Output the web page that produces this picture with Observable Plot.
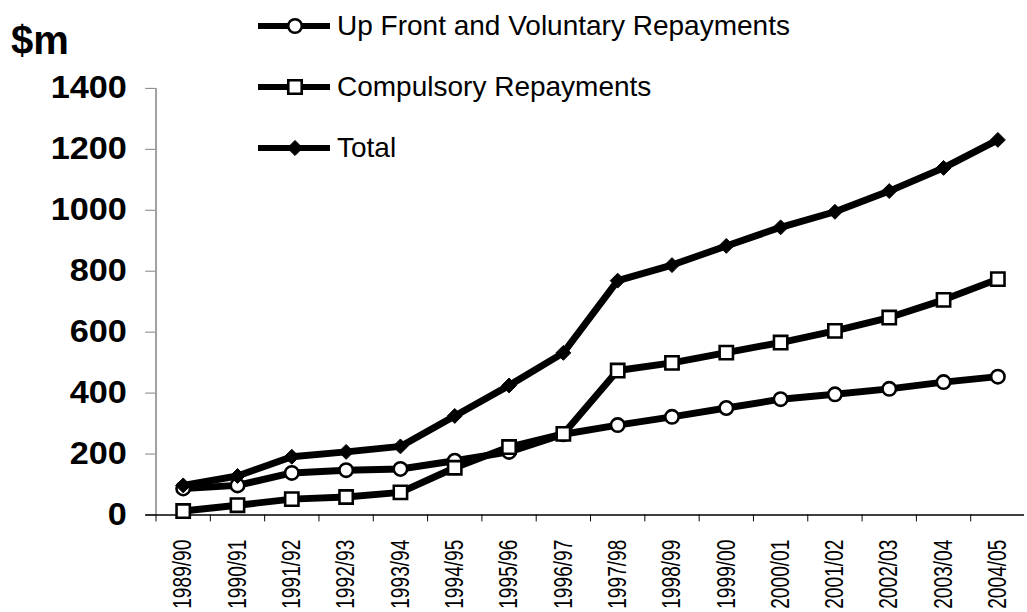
<!DOCTYPE html>
<html><head><meta charset="utf-8">
<script src="https://cdn.jsdelivr.net/npm/d3@7"></script>
<script src="https://cdn.jsdelivr.net/npm/@observablehq/plot@0.6"></script>
<style>
html,body{margin:0;padding:0;background:#fff;overflow:hidden;}
#wrap{position:relative;width:1027px;height:612px;overflow:hidden;font-family:"Liberation Sans",Arial,sans-serif;color:#000;}
#chart{position:absolute;left:0;top:0;}
#unit{position:absolute;left:11px;top:20px;font-weight:bold;font-size:40px;line-height:1;}
.leg{position:absolute;left:258px;height:30px;display:flex;align-items:center;font-size:28px;white-space:nowrap;}
.leg svg{margin-right:7px;display:block;}
</style></head>
<body><div id="wrap"><div id="chart"></div><div id="unit">$m</div><div id="legend"></div></div>
<script>
const years = ["1989/90","1990/91","1991/92","1992/93","1993/94","1994/95","1995/96","1996/97","1997/98","1998/99","1999/00","2000/01","2001/02","2002/03","2003/04","2004/05"];
const upFront = [87, 97, 138, 147, 151, 178, 207, 265, 295, 322, 351, 380, 396, 414, 436, 454];
const compulsory = [13, 32, 52, 59, 74, 155, 223, 266, 474, 499, 533, 566, 604, 648, 706, 774];
const total = [97, 128, 191, 207, 225, 325, 425, 532, 769, 820, 883, 944, 995, 1063, 1139, 1231];
const seriesNames = ["Up Front and Voluntary Repayments", "Compulsory Repayments", "Total"];
const seriesSymbols = ["circle", "square", "diamond2"];
const yTicks = [0, 200, 400, 600, 800, 1000, 1200, 1400];

const seriesValues = [upFront, compulsory, total];
const tables = seriesValues.map((vals, s) => years.map((year, i) => ({year, value: vals[i], series: seriesNames[s]})));

const symbolStyle = {
  circle: {r: 6.8, fill: "white", strokeWidth: 2.6},
  square: {r: 7.6, fill: "white", strokeWidth: 2.6},
  diamond2: {r: 6.8, fill: "black", strokeWidth: 1}
};

const marks = [
  Plot.ruleX([years[0]], {dx: -27.5, y1: 0, y2: 1400, stroke: "#808080", strokeWidth: 1.5}),
  Plot.axisY(yTicks, {tickSize: 10, tickPadding: 19, tickFormat: d => String(d), stroke: "#808080", fill: "black", fontSize: 31, fontWeight: "bold", label: null}),
  Plot.axisX({tickSize: 7, tickFormat: () => "", dx: -27.5, stroke: "black", label: null}),
  Plot.axisX({tickSize: 0, tickPadding: 25, tickRotate: -90, fontSize: 26, fontFamily: "'Liberation Sans',Arial,sans-serif", fill: "black", label: null}),
  Plot.ruleY([0], {stroke: "black", strokeWidth: 1.5, insetLeft: -10}),
];
tables.forEach((t, s) => {
  marks.push(Plot.lineY(t, {x: "year", y: "value", stroke: "black", strokeWidth: 7, strokeLinejoin: "round"}));
  const st = symbolStyle[seriesSymbols[s]];
  marks.push(Plot.dot(t, {x: "year", y: "value", symbol: seriesSymbols[s], r: st.r, fill: st.fill, stroke: "black", strokeWidth: st.strokeWidth}));
});

const chart = Plot.plot({
  width: 1040,
  height: 612,
  marginLeft: 157,
  marginRight: 3,
  marginTop: 89,
  marginBottom: 91,
  x: {type: "point", domain: years, padding: 0.5},
  y: {domain: [0, 1400]},
  style: {fontFamily: "'Liberation Sans', Arial, sans-serif", background: "white", overflow: "visible"},
  marks
});
document.getElementById("chart").appendChild(chart);

// stretch y tick labels horizontally and narrow the x tick labels, like the original
d3.select(chart).selectAll('g[aria-label="y-axis tick label"] text').each(function() {
  this.setAttribute("textLength", 19.3 * this.textContent.length);
  this.setAttribute("lengthAdjust", "spacingAndGlyphs");
});
d3.select(chart).selectAll('g[aria-label="x-axis tick label"] text').each(function() {
  if (!this.textContent) return;
  this.setAttribute("textLength", 70);
  this.setAttribute("lengthAdjust", "spacingAndGlyphs");
});

// legend
const legend = document.getElementById("legend");
const legendTops = [11, 72, 133];
seriesNames.forEach((name, s) => {
  const row = document.createElement("div");
  row.className = "leg";
  row.style.top = legendTops[s] + "px";
  const svg = d3.create("svg").attr("width", 72).attr("height", 30);
  svg.append("line").attr("x1", 0).attr("x2", 72).attr("y1", 15).attr("y2", 15).attr("stroke", "black").attr("stroke-width", 6);
  const sym = {circle: d3.symbolCircle, square: d3.symbolSquare, diamond2: d3.symbolDiamond2}[seriesSymbols[s]];
  const st = symbolStyle[seriesSymbols[s]];
  svg.append("path").attr("transform", "translate(37,15)").attr("d", d3.symbol(sym, Math.PI * st.r * st.r)())
    .attr("fill", st.fill).attr("stroke", "black").attr("stroke-width", st.strokeWidth);
  row.appendChild(svg.node());
  const span = document.createElement("span");
  span.textContent = name;
  row.appendChild(span);
  legend.appendChild(row);
});
</script>
</body></html>
